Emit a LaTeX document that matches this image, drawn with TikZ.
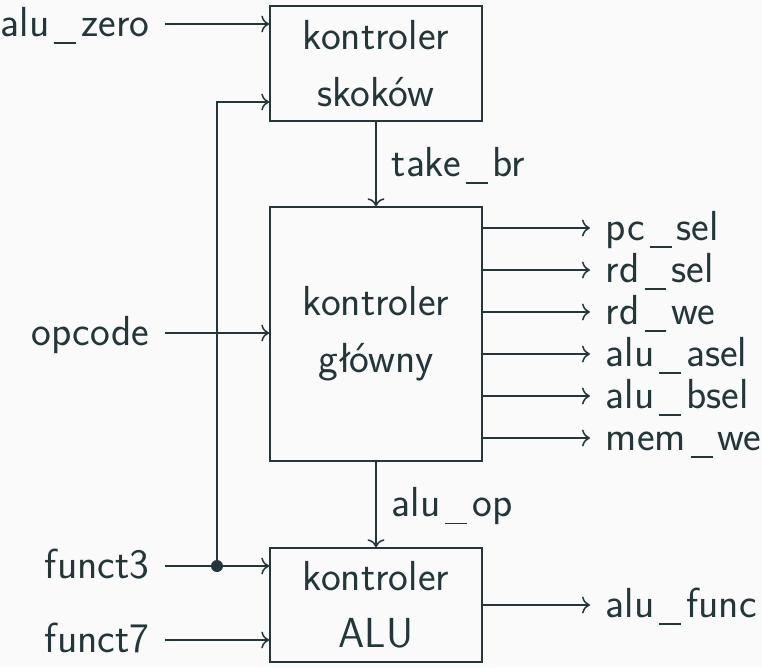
\documentclass[tikz,border=0pt]{standalone}
\usetikzlibrary{arrows.meta, positioning, calc}
\definecolor{ctrlteal}{HTML}{23373B}
\definecolor{ctrlbg}{HTML}{FAFAFA}
\newcommand{\usc}{\kern0.12em\rule[-0.19em]{0.52em}{1.6pt}\kern0.12em}

\begin{document}
\begin{tikzpicture}[x=1pt,y=-1pt,font=\sffamily\fontsize{42}{50}\selectfont,color=ctrlteal,
    line width=1.5pt,>={To[length=8pt,width=17pt]}]
  \tikzset{
    ctrlbox/.style={draw,minimum width=212pt,align=center,inner sep=0pt,
      font=\sffamily\fontsize{42}{57}\selectfont},
    sig/.style={inner sep=0pt,text height=27pt,text depth=3pt}
  }
  \fill[ctrlbg] (0,0) rectangle (762,667);
  \useasboundingbox (0,0) rectangle (762,667);

  % boxes
  \node[ctrlbox,minimum height=115pt] (skok) at (376,63.5) {kontroler\\skoków};
  \node[ctrlbox,minimum height=254pt] (glowny) at (376,334) {kontroler\\główny};
  \node[ctrlbox,minimum height=114pt] (alu) at (376,605) {kontroler\\ALU};

  % inputs
  \node[sig,anchor=east] (zero) at (150,24) {alu\usc zero};
  \node[sig,anchor=east] (opcode) at (150,333) {opcode};
  \node[sig,anchor=east] (funct3) at (150,566) {funct3};
  \node[sig,anchor=east] (funct7) at (150,640) {funct7};
  \draw[->] ([xshift=15pt]zero.east) -- (zero.east -| skok.west);
  \draw[->] ([xshift=15pt]opcode.east) -- (opcode.east -| glowny.west);
  \draw[->] ([xshift=15pt]funct3.east) -- (funct3.east -| alu.west);
  \draw[->] ([xshift=15pt]funct7.east) -- (funct7.east -| alu.west);
  \coordinate (split) at (217,566);
  \fill (split) circle (6pt);
  \draw[->] (split) |- ([yshift=-38.5pt]skok.west);

  % between controllers
  \draw[->] (skok) -- node[sig,anchor=west,xshift=15pt] (takebr) {take\usc br} (glowny);
  \draw[->] (glowny) -- node[sig,anchor=west,xshift=15pt] (aluop) {alu\usc op} (alu);

  % outputs
  \foreach \i/\name in {0/pc\usc sel,1/rd\usc sel,2/rd\usc we,3/alu\usc asel,4/alu\usc bsel,5/mem\usc we}{
    \node[sig,anchor=west] (out\i) at (605,228+42*\i) {\name};
    \draw[->] (glowny.east |- out\i.west) -- ([xshift=-15pt]out\i.west);
  }
  \node[sig,anchor=west] (func) at (605,605) {alu\usc func};
  \draw[->] (alu.east |- func.west) -- ([xshift=-15pt]func.west);
\end{tikzpicture}
\end{document}
